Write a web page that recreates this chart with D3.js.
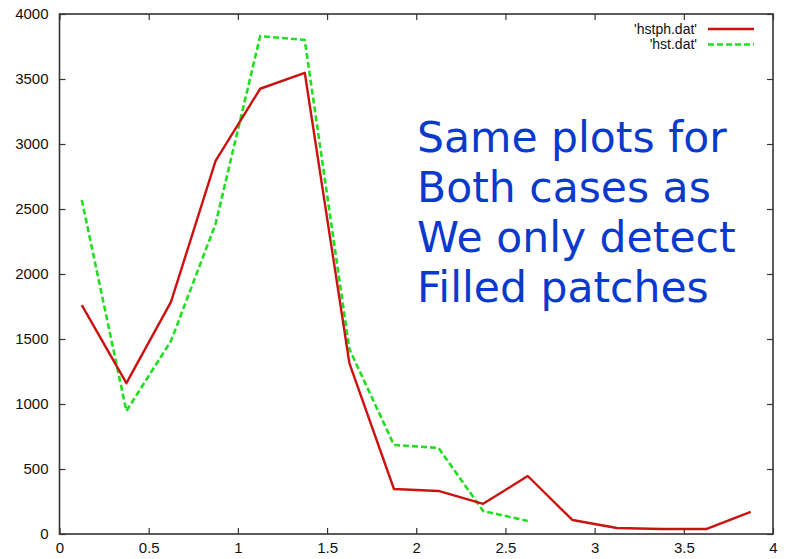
<!DOCTYPE html>
<html>
<head>
<meta charset="utf-8">
<script src="https://cdn.jsdelivr.net/npm/d3@7"></script>
<style>
  html, body { margin: 0; padding: 0; background: #fff; }
  svg { display: block; }
</style>
</head>
<body>
<svg id="chart" width="786" height="559"></svg>
<script>
// Histogram bin centres (bin width 0.25)
const binCentres = [0.125, 0.375, 0.625, 0.875, 1.125, 1.375, 1.625, 1.875,
                    2.125, 2.375, 2.625, 2.875, 3.125, 3.375, 3.625, 3.875];
// 'hstph.dat'
const hstphValues = [1760, 1160, 1785, 2870, 3425, 3548, 1315, 346,
                     331, 232, 446, 108, 46, 38, 38, 170];
// 'hst.dat' (fewer bins)
const hstValues = [2570, 946, 1485, 2385, 3830, 3800, 1423, 685, 662, 177, 100];

const xTicks = [0, 0.5, 1, 1.5, 2, 2.5, 3, 3.5, 4];
const yTicks = [0, 500, 1000, 1500, 2000, 2500, 3000, 3500, 4000];
const seriesNames = ["'hstph.dat'", "'hst.dat'"];
const noteLines = ["Same plots for", "Both cases as", "We only detect", "Filled patches"];

const svg = d3.select("#chart");
const plotLeft = 59.5, plotRight = 773, plotTop = 14, plotBottom = 534;

const x = d3.scaleLinear().domain([0, 4]).range([plotLeft, plotRight]);
const y = d3.scaleLinear().domain([0, 4000]).range([plotBottom, plotTop]);

const axisColor = "#333";
const fontFam = "'Liberation Sans', Arial, Helvetica, sans-serif";
const labelSize = "15px";

// Frame
svg.append("rect")
  .attr("x", plotLeft).attr("y", plotTop)
  .attr("width", plotRight - plotLeft).attr("height", plotBottom - plotTop)
  .attr("fill", "none").attr("stroke", axisColor).attr("stroke-width", 1.6);

// Axes with inward ticks, mirrored on the opposite side
const tickLen = 6;
const gx = svg.append("g").attr("transform", `translate(0,${plotBottom})`)
  .call(d3.axisBottom(x).tickValues(xTicks).tickSize(-tickLen).tickPadding(8)
        .tickFormat(d3.format("")));
const gxTop = svg.append("g").attr("transform", `translate(0,${plotTop})`)
  .call(d3.axisTop(x).tickValues(xTicks).tickSize(-tickLen).tickFormat(""));
const gy = svg.append("g").attr("transform", `translate(${plotLeft},0)`)
  .call(d3.axisLeft(y).tickValues(yTicks).tickSize(-tickLen).tickPadding(11)
        .tickFormat(d3.format("d")));
const gyRight = svg.append("g").attr("transform", `translate(${plotRight},0)`)
  .call(d3.axisRight(y).tickValues(yTicks).tickSize(-tickLen).tickFormat(""));

[gx, gxTop, gy, gyRight].forEach(g => {
  g.select(".domain").remove();
  g.selectAll(".tick line").attr("stroke", axisColor).attr("stroke-width", 1.2);
  g.selectAll(".tick text").attr("fill", "#111")
    .style("font-family", fontFam).style("font-size", labelSize);
});

// Series lines
const line = d3.line().x(d => x(d[0])).y(d => y(d[1]));
const redData = binCentres.map((c, i) => [c, hstphValues[i]]);
const greenData = hstValues.map((v, i) => [binCentres[i], v]);

svg.append("path").datum(greenData)
  .attr("d", line).attr("fill", "none")
  .attr("stroke", "#22dd22").attr("stroke-width", 2.6)
  .attr("stroke-dasharray", "6,3");

svg.append("path").datum(redData)
  .attr("d", line).attr("fill", "none")
  .attr("stroke", "#cc1111").attr("stroke-width", 2.4)
  .attr("stroke-linejoin", "round");

// Legend
const legend = svg.append("g");
const legendStyles = [
  { color: "#cc1111", dash: null },
  { color: "#22dd22", dash: "6,3" }
];
seriesNames.forEach((name, i) => {
  const ly = 29 + i * 15.5;
  legend.append("text")
    .attr("x", 697).attr("y", ly + 4.5)
    .attr("text-anchor", "end")
    .style("font-family", fontFam).style("font-size", "14px")
    .attr("fill", "#111").text(name);
  legend.append("line")
    .attr("x1", 708).attr("x2", 754).attr("y1", ly).attr("y2", ly)
    .attr("stroke", legendStyles[i].color).attr("stroke-width", 2.4)
    .attr("stroke-dasharray", legendStyles[i].dash);
});

// Annotation
const note = svg.append("text")
  .style("font-family", "'DejaVu Sans', Verdana, sans-serif")
  .style("font-size", "42.5px")
  .attr("fill", "#0a3acc");
noteLines.forEach((t, i) => {
  note.append("tspan").attr("x", 417).attr("y", 152 + i * 50).text(t);
});
</script>
</body>
</html>
